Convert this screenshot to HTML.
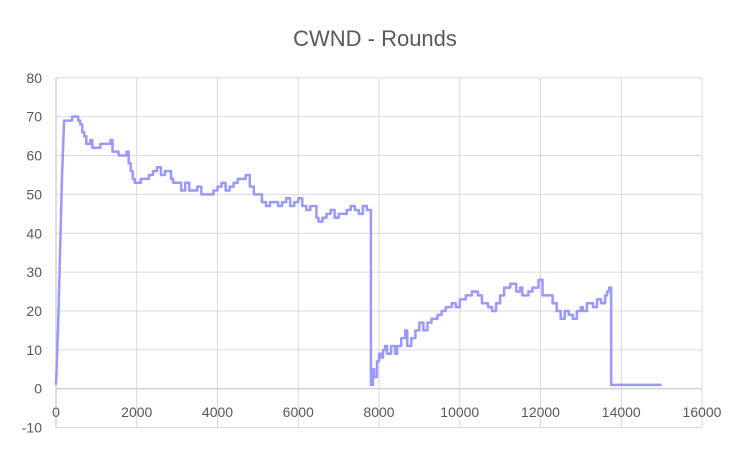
<!DOCTYPE html>
<html><head><meta charset="utf-8"><style>
body{margin:0;background:#fff;width:750px;height:450px;overflow:hidden;font-family:"Liberation Sans",sans-serif}
</style></head><body>
<svg id="chart" width="750" height="450" xmlns="http://www.w3.org/2000/svg">
<rect width="750" height="450" fill="#fff"/>
<text x="375" y="46" text-anchor="middle" font-size="22" fill="#595959" font-family="Liberation Sans, sans-serif">CWND - Rounds</text>
<g id="grid"></g><g id="ticks"></g><g id="series"></g>
</svg>
<script>
const xTicks=[0,2000,4000,6000,8000,10000,12000,14000,16000];
const yTicks=[-10,0,10,20,30,40,50,60,70,80];
const roundsX=[0,50,100,150,200,400,550,600,650,700,750,850,900,1000,1100,1350,1400,1550,1750,1800,1850,1900,1950,2100,2300,2400,2500,2600,2700,2850,2900,3100,3200,3300,3400,3500,3600,3900,4000,4100,4200,4300,4400,4500,4700,4800,4900,5100,5200,5300,5500,5600,5700,5800,5900,6000,6100,6200,6300,6450,6500,6600,6700,6800,6900,7000,7200,7300,7400,7500,7600,7700,7800,7850,7880,7950,8000,8050,8100,8150,8200,8300,8400,8450,8550,8650,8700,8800,8900,9000,9100,9200,9300,9450,9550,9650,9800,9900,10000,10150,10300,10450,10550,10700,10800,10900,11000,11100,11250,11400,11500,11550,11700,11800,11950,12050,12300,12400,12500,12600,12700,12800,12900,13000,13050,13150,13300,13400,13500,13600,13650,13700,13750,15000];
const cwndY=[1,15,35,55,69,70,69,68,66,65,63,64,62,62,63,64,61,60,61,58,56,54,53,54,55,56,57,55,56,54,53,51,53,51,51,52,50,51,52,53,51,52,53,54,55,52,50,48,47,48,47,48,49,47,48,49,47,46,47,44,43,44,45,46,44,45,46,47,46,45,47,46,1,5,3,7,9,8,10,11,9,11,9,11,13,15,11,13,15,17,15,17,18,19,20,21,22,21,23,24,25,24,22,21,20,22,24,26,27,25,26,24,25,26,28,24,22,20,18,20,19,18,20,21,20,22,21,23,22,24,25,26,1,1];
const X0=56,X1=702,Y0=388.7,PX=(X1-X0)/16000,PY=3.886;
const sx=v=>X0+v*PX, sy=v=>Y0-v*PY;
const NS="http://www.w3.org/2000/svg";
const g=document.getElementById('grid'),t=document.getElementById('ticks'),s=document.getElementById('series');
function mk(tag,attrs,parent){const e=document.createElementNS(NS,tag);for(const k in attrs)e.setAttribute(k,attrs[k]);parent.appendChild(e);return e;}
yTicks.forEach(v=>{
 const l=mk('line',{x1:X0,x2:X1,y1:sy(v),y2:sy(v),stroke:v===0?'#bfbfbf':'#d9d9d9','stroke-width':1},g);
 
 
 const tx=mk('text',{x:42,y:sy(v)+5,'text-anchor':'end','font-size':14,fill:'#595959'},t);
 tx.textContent=v;
 
 
});
xTicks.forEach(v=>{
 const l=mk('line',{x1:sx(v),x2:sx(v),y1:sy(80),y2:sy(-10),stroke:v===0?'#bfbfbf':'#d9d9d9','stroke-width':1},g);
 
 
 const tx=mk('text',{x:sx(v),y:417,'text-anchor':'middle','font-size':14,fill:'#595959'},t);
 tx.textContent=v;
 
 
});
let d='';
const n=Math.min(roundsX.length,cwndY.length);
for(let i=0;i<n;i++){
 const x=sx(roundsX[i]),y=sy(cwndY[i]);
 if(i===0)d+='M'+x+' '+y;
 else if(i<5)d+=' L'+x+' '+y;
 else d+=' L'+x+' '+sy(cwndY[i-1])+' L'+x+' '+y;
}
const p=mk('path',{d:d,fill:'none',stroke:'#9999ff','stroke-width':2.5,'stroke-linejoin':'round'},s);


</script>
</body></html>
